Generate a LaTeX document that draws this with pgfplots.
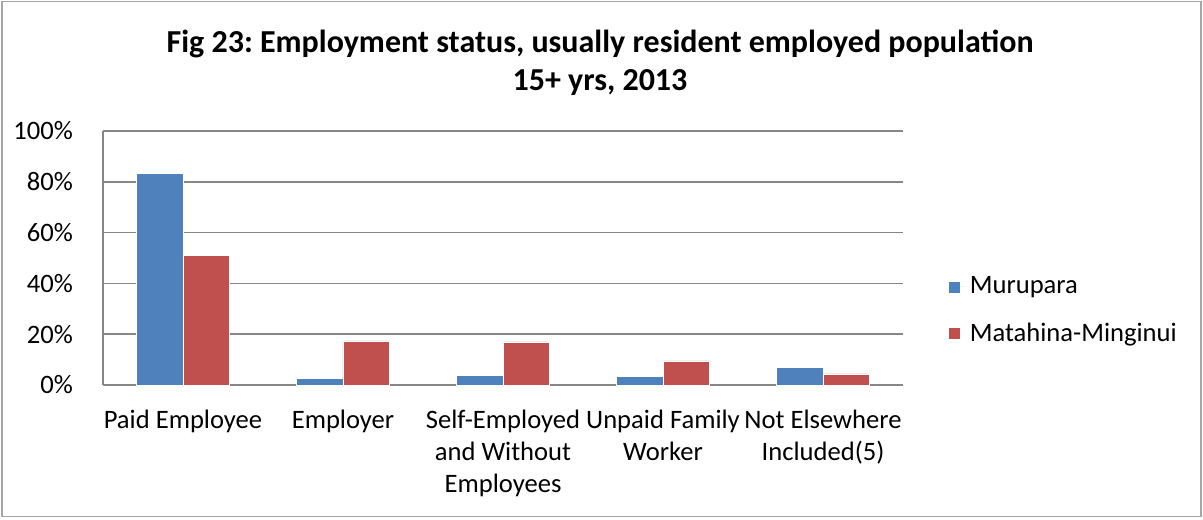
\documentclass[border=0pt]{standalone}
\usepackage{fontspec}
\setmainfont{Carlito}
\usepackage{pgfplots}
\pgfplotsset{compat=1.18}
\definecolor{murupara}{HTML}{4F81BD}
\definecolor{matahina}{HTML}{C0504D}
\definecolor{gridgray}{HTML}{868686}
\frenchspacing
\begin{document}
\begin{tikzpicture}
\useasboundingbox (-51.5pt,-67pt) rectangle (550pt,192.5pt);
\draw[gray!70, line width=0.7pt] (-50.5pt,-65.8pt) rectangle (549pt,191.8pt);
\node[font=\fontsize{16}{19}\selectfont\bfseries, align=center] at (248.5pt,161pt)
  {Fig 23: Employment status, usually resident employed population\\15+ yrs, 2013};
\begin{axis}[
    at={(0,0)}, anchor=south west,
    width=400pt, height=127pt, scale only axis,
    ybar=0pt, bar width=0.29,
    xmin=-0.5, xmax=4.5,
    ymin=0, ymax=100,
    xtick={0,1,2,3,4},
    xticklabels={Paid Employee, Employer, {Self-Employed\\and Without\\Employees}, {Unpaid Family\\Worker}, {Not Elsewhere\\Included(5)}},
    xticklabel style={align=center, font=\fontsize{13.3}{16}\selectfont, yshift=-9pt},
    ytick={0,20,40,60,80,100},
    yticklabel={\pgfmathprintnumber{\tick}\%},
    yticklabel style={font=\fontsize{13.3}{15}\selectfont, xshift=-11.5pt},
    /pgf/number format/assume math mode=true,
    major tick length=0pt,
    ymajorgrids, grid style={gridgray, line width=0.8pt},
    axis line style={gridgray, line width=0.8pt},
    axis x line*=bottom, axis y line*=left,
    legend style={at={(1.056,0.293)}, anchor=west, draw=none, fill=none, inner sep=0pt,
      font=\fontsize{13.3}{15}\selectfont, row sep=9pt},
    legend image code/.code={\path (0pt,0pt) -- (8.5pt,0pt);
      \fill[#1] (0pt,-3pt) rectangle (6pt,3pt);},
    legend cell align=left,
]
\addplot[fill=murupara, draw=white, line width=0.3pt] coordinates {(0,83.2) (1,2.5) (2,3.9) (3,3.3) (4,6.9)};
\addplot[fill=matahina, draw=white, line width=0.3pt] coordinates {(0,51.1) (1,17.4) (2,17.0) (3,9.5) (4,4.4)};
\legend{Murupara, Matahina-Minginui}
\end{axis}
\end{tikzpicture}
\end{document}
